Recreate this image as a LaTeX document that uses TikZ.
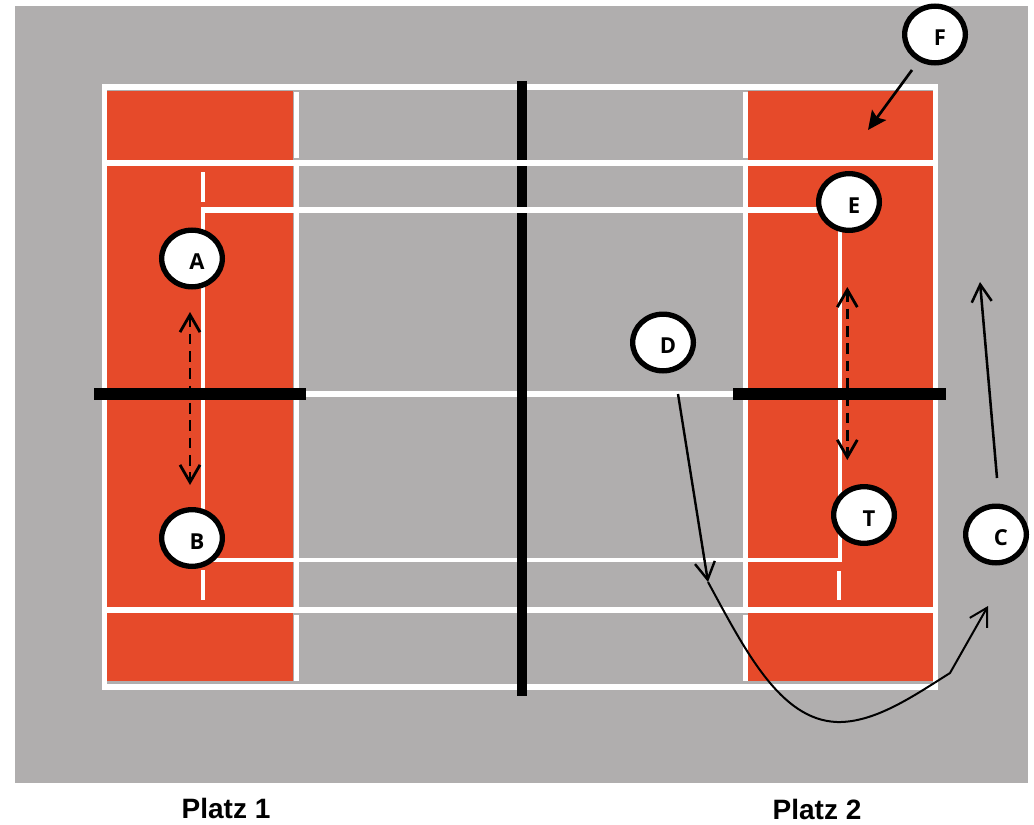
\documentclass[tikz,border=0pt]{standalone}
\usepackage{fontspec}
\setmainfont{Liberation Sans}
\newfontfamily\markfont{Open Sans}
\usetikzlibrary{arrows.meta,shapes.geometric}
\definecolor{courtgrey}{HTML}{B0AEAE}
\definecolor{courtred}{HTML}{E64A2A}
\tikzset{
  x=0.75pt,y=-0.75pt,
  redzone/.style={fill=courtred,draw=none},
  courtline/.style={draw=white,line width=4.2pt},
  thinline/.style={draw=white,line width=3.6pt},
  netbar/.style={draw=black,line width=7.5pt},
  player/.style={ellipse,draw=black,fill=white,line width=4pt,minimum width=45.5pt,minimum height=42.5pt,inner sep=0pt},
  letter/.style={font=\markfont\bfseries\fontsize{16.5}{17}\selectfont,inner sep=0pt,text=black},
  opentip/.style={-{Straight Barb[length=13pt,width=15pt]}},
  bothtip/.style={{Straight Barb[length=13pt,width=15pt]}-{Straight Barb[length=13pt,width=15pt]}},
  walk/.style={draw=black,line width=1.8pt,opentip},
  shuttle/.style={draw=black,line width=2.1pt,bothtip,dash pattern=on 8pt off 5pt},
  caption/.style={font=\bfseries\fontsize{21}{24}\selectfont,anchor=base,inner sep=0pt}
}
\begin{document}
\begin{tikzpicture}
\useasboundingbox (0,0) rectangle (1034,824);
\fill[white] (0,0) rectangle (1034,824);
\fill[courtgrey] (15,6) rectangle (1028,783);
% red zones
\path[redzone] (107,91) rectangle (293,681);
\path[redzone] (748,91) rectangle (933,681);
% lines under the net
\draw[courtline] (104.5,87) -- (104.5,687);
\draw[courtline] (935.5,87) -- (935.5,687);
\draw[courtline] (102,87) -- (938,87);
\draw[courtline] (102,687) -- (938,687);
\draw[courtline] (102,610) -- (938,610);
\draw[courtline] (300,394) -- (740,394);
\draw[thinline] (296.5,92) -- (296.5,158);
\draw[thinline] (296.5,163) -- (296.5,610);
\draw[thinline] (296.5,615) -- (296.5,681);
\draw[thinline] (745.5,92) -- (745.5,158);
\draw[thinline] (745.5,163) -- (745.5,610);
\draw[thinline] (745.5,615) -- (745.5,681);
\draw[courtline,line width=3.6pt,line join=miter] (203,208) -- (203,560) -- (840,560) -- (840,208);
\draw[courtline,line width=3pt] (202.5,172) -- (202.5,202);
\draw[courtline,line width=3pt] (202.5,570) -- (202.5,600);
\draw[courtline,line width=3pt] (839,571) -- (839,600);
% nets
\draw[netbar] (521.7,81) -- (521.7,696);
\draw[netbar,line width=9pt] (94,394) -- (306,394);
\draw[netbar,line width=9pt] (733,394) -- (946,394);
% lines over the centre net
\draw[courtline] (102,163) -- (938,163);
\draw[courtline] (201,210) -- (842,210);
% arrow ends
\coordinate (a1) at (190,312);
\coordinate (a2) at (190,485);
\coordinate (t1) at (847.3,287);
\coordinate (t2) at (847.3,460);
\coordinate (d1) at (678,394);
\coordinate (d2) at (708,582);
\coordinate (k) at (950,673);
\coordinate (c1) at (988,606);
\coordinate (c2) at (997,478);
\coordinate (c3) at (980,282);
\coordinate (f1) at (912,70);
\coordinate (f2) at (868,130);
\draw[shuttle] (a1) -- (a2);
\draw[shuttle] (t1) -- (t2);
\draw[walk] (d1) -- (d2);
\draw[walk,line width=1.5pt] (d2) .. controls (745,650) and (780,720) .. (837,722) .. controls (875,723) and (915,695) .. (k) -- (c1);
\draw[walk,line width=1.9pt] (c2) -- (c3);
\draw[draw=black,line width=2pt,-{Stealth[length=14pt,width=13pt,inset=2.5pt]}] (f1) -- (f2);
% players
\foreach \nm/\px/\py in {A/192/258.5,B/192/538,D/663/342.5,E/849/202,F/935/34.5,T/864/515,C/996/534.5}{
  \node[player] (p\nm) at (\px,\py) {};
  \node[letter] (l\nm) at ([xshift=3.7pt,yshift=-2.5pt]p\nm.center) {\nm};
}
\node[caption] (p1) at (226,818) {Platz 1};
\node[caption] (p2) at (817,819) {Platz 2};
\end{tikzpicture}
\end{document}
